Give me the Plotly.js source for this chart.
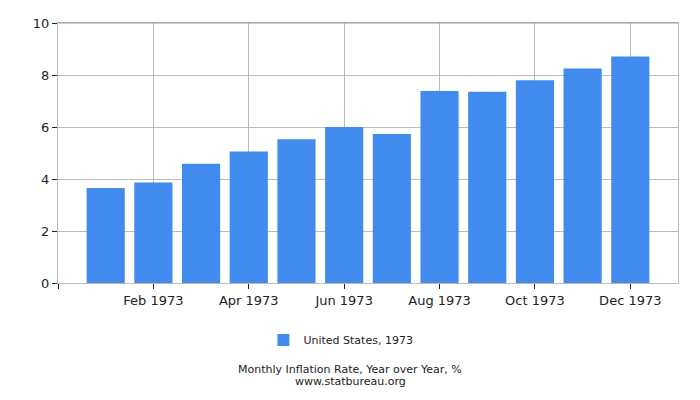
<!DOCTYPE html>
<html>
<head>
<meta charset="utf-8">
<script src="https://cdn.plot.ly/plotly-3.0.1.min.js"></script>
<style>
  html, body { margin: 0; padding: 0; background: white; }
  #chart { width: 700px; height: 400px; }
</style>
</head>
<body>
<div id="chart"></div>
<script>
// data
var months = ['Jan 1973', 'Feb 1973', 'Mar 1973', 'Apr 1973', 'May 1973', 'Jun 1973',
  'Jul 1973', 'Aug 1973', 'Sep 1973', 'Oct 1973', 'Nov 1973', 'Dec 1973'];
var inflation = [3.65, 3.87, 4.59, 5.06, 5.53, 6.00, 5.73, 7.38, 7.36, 7.80, 8.25, 8.71];
var seriesName = 'United States, 1973';
var tickLabels = ['', 'Feb 1973', 'Apr 1973', 'Jun 1973', 'Aug 1973', 'Oct 1973', 'Dec 1973'];
var yTicks = [0, 2, 4, 6, 8, 10];

var xIdx = months.map(function (m, i) { return i; });
var tickPos = tickLabels.map(function (t) { return t === '' ? -1 : months.indexOf(t); });

var data = [{
  type: 'bar',
  x: xIdx,
  y: inflation,
  hovertext: months,
  hoverinfo: 'text+y',
  textposition: 'none',
  name: seriesName,
  width: 0.8,
  marker: { color: '#418bef' },
  showlegend: true
}];

var tickFont = { family: 'DejaVu Sans', size: 13, color: '#222' };

var layout = {
  width: 700,
  height: 400,
  margin: { l: 57.5, r: 21.5, t: 22.5, b: 116.5 },
  paper_bgcolor: 'white',
  plot_bgcolor: 'white',
  font: { family: 'DejaVu Sans', color: '#222' },
  xaxis: {
    range: [-1, 12],
    tickmode: 'array',
    tickvals: tickPos,
    ticktext: tickLabels,
    ticks: 'outside',
    ticklen: 5,
    tickcolor: '#222',
    tickfont: tickFont,
    showgrid: true,
    gridcolor: '#bbbbbb',
    showline: true,
    linecolor: '#bbbbbb',
    linewidth: 1,
    mirror: true,
    zeroline: false,
    fixedrange: true
  },
  yaxis: {
    range: [0, 10],
    tickmode: 'array',
    tickvals: yTicks,
    ticks: 'outside',
    ticklen: 5,
    tickcolor: '#222',
    tickfont: tickFont,
    showgrid: true,
    gridcolor: '#bbbbbb',
    showline: true,
    linecolor: '#bbbbbb',
    linewidth: 1,
    mirror: true,
    zeroline: false,
    fixedrange: true
  },
  shapes: [{
    type: 'line', xref: 'paper', yref: 'paper',
    x0: 0, x1: 1, y0: 1, y1: 1,
    line: { color: '#999999', width: 1 }
  }],
  legend: {
    orientation: 'h',
    xref: 'container',
    yref: 'container',
    x: 0.487,
    xanchor: 'center',
    y: 0.15,
    yanchor: 'middle',
    itemwidth: 30,
    font: { family: 'DejaVu Sans', size: 11, color: '#222' }
  },
  annotations: [{
    text: 'Monthly Inflation Rate, Year over Year, %',
    xref: 'paper', yref: 'paper',
    x: (350 - 57.5) / 621, y: -(370 - 283.5) / 261,
    xanchor: 'center', yanchor: 'middle',
    showarrow: false,
    font: { family: 'DejaVu Sans', size: 11, color: '#222' }
  }, {
    text: 'www.statbureau.org',
    xref: 'paper', yref: 'paper',
    x: (350 - 57.5) / 621, y: -(382.5 - 283.5) / 261,
    xanchor: 'center', yanchor: 'middle',
    showarrow: false,
    font: { family: 'DejaVu Sans', size: 11, color: '#222' }
  }]
};

Plotly.newPlot('chart', data, layout, { displayModeBar: false, staticPlot: true });
</script>
</body>
</html>
